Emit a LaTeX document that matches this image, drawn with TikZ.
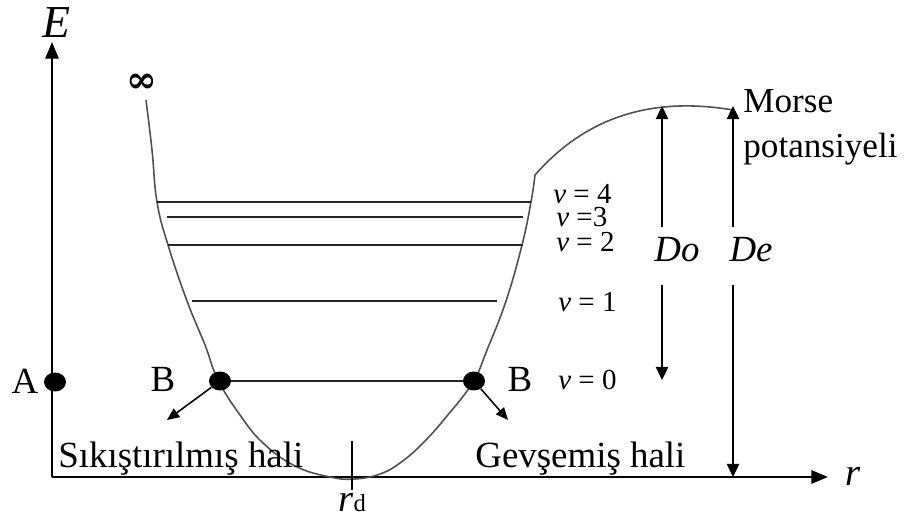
\documentclass[tikz,border=0pt]{standalone}
\usepackage{fontspec}
\setmainfont{Liberation Serif}
\newfontfamily\simgefont{DejaVu Serif}
\usetikzlibrary{arrows.meta, positioning, calc, shapes.geometric}
\definecolor{kuyugray}{HTML}{505050}

\begin{document}
\begin{tikzpicture}[x=0.02cm, y=-0.02cm,
    eksen/.style={line width=1.4pt, -{Triangle[length=9.5pt, width=7.5pt]}},
    okcizgi/.style={line width=1.1pt, -{Triangle[length=7.5pt, width=7pt]}},
    seviye/.style={line width=1.1pt, black!85},
    nokta/.style={ellipse, fill=black, inner sep=0pt, minimum width=0.44cm, minimum height=0.38cm},
    yazi/.style={font=\fontsize{21}{25}\selectfont, inner sep=0pt, anchor=base},
    vyazi/.style={font=\fontsize{16.5}{19}\selectfont, inner sep=0pt, anchor=base west}]
  \useasboundingbox (0,0) rectangle (908,519);

  % Eksenler
  \coordinate (O) at (52,477);
  \coordinate (Etop) at (52,42);
  \coordinate (rend) at (828,477);
  \draw[eksen] (O) -- (Etop);
  \draw[eksen] (O) -- (rend);
  \node[yazi, font=\fontsize{26}{30}\selectfont\itshape] (E) at (56,38) {E};
  \node[yazi, font=\fontsize{22}{26}\selectfont\itshape] (r) at (853,485) {r};

  % Potansiyel kuyusu (Morse)
  \draw[kuyugray, line width=0.9pt] plot[smooth, tension=0.7] coordinates {
      (146,100) (152,150) (157,202) (168,245) (187,301) (205,345) (218,380)
      (240,415) (263,443) (295,466) (330,477) (355,479) (380,474) (400,463)
      (422,444) (447,416) (473,382) (487,350) (506,301) (522,245) (531,202)
      (535,175)}
    .. controls (585,118) and (650,96) .. (733,110);
  \node[font=\fontsize{21}{23}\selectfont\simgefont\bfseries] (inf) at (142,83) {∞};

  % Titresim seviyeleri
  \foreach \y/\xa/\xb in {202/157/531, 217/167/523, 245/168/523, 301/192/497} {
    \draw[seviye] (\xa,\y) -- (\xb,\y);
  }
  \node[nokta] (Bl) at (220,381) {};
  \node[nokta] (Br) at (474,381) {};
  \draw[seviye] (Bl) -- (Br);
  \node[nokta] (Adot) at (55,382) {};

  \node[vyazi] (v4) at (553,204) {\textit{v} = 4};
  \node[vyazi] (v3) at (556,227) {\textit{v} =3};
  \node[vyazi] (v2) at (556,252) {\textit{v} = 2};
  \node[vyazi] (v1) at (558,312) {\textit{v} = 1};
  \node[vyazi] (v0) at (558,390) {\textit{v} = 0};

  \node[yazi] (A) at (25,394) {A};
  \node[yazi] (Bltext) at (163,392) {B};
  \node[yazi] (Brtext) at (520,392) {B};

  % Sikistirma / gevseme oklari
  \coordinate (Bltip) at (167,420);
  \coordinate (Brtip) at (508,420);
  \draw[line width=0.9pt, -{Triangle[length=7pt, width=6pt]}] (Bl) -- (Bltip);
  \draw[line width=0.9pt, -{Triangle[length=7pt, width=6pt]}] (Br) -- (Brtip);
  \node[yazi, anchor=base west] (sik) at (58,467) {Sıkıştırılmış hali};
  \node[yazi, anchor=base west] (gev) at (475,467) {Gevşemiş hali};

  % Denge uzakligi
  \coordinate (rdtop) at (352,441);
  \coordinate (rdbot) at (352,490);
  \draw[line width=0.9pt] (rdtop) -- (rdbot);
  \node[yazi, anchor=base west, font=\fontsize{22}{24}\selectfont] (rd) at (338,511)
    {\textit{r}{\fontsize{14}{16}\selectfont d}};

  % Ayrisma enerjileri
  \node[yazi, font=\fontsize{21}{25}\selectfont\itshape] (Do) at (677,262) {Do};
  \node[yazi, font=\fontsize{21}{25}\selectfont\itshape] (De) at (751,262) {De};
  \coordinate (Doust) at (662,227);
  \coordinate (Doalt) at (662,285);
  \coordinate (Dotop) at (662,106);
  \coordinate (Dobot) at (662,380);
  \coordinate (Deust) at (733,227);
  \coordinate (Dealt) at (733,285);
  \coordinate (Detop) at (733,106);
  \coordinate (Debot) at (733,477);
  \draw[okcizgi] (Doust) -- (Dotop);
  \draw[okcizgi] (Doalt) -- (Dobot);
  \draw[okcizgi] (Deust) -- (Detop);
  \draw[okcizgi] (Dealt) -- (Debot);

  \node[yazi, anchor=base west, font=\fontsize{20}{24}\selectfont] (morse1) at (743,113) {Morse};
  \node[yazi, anchor=base west, font=\fontsize{20}{24}\selectfont] (morse2) at (743,158) {potansiyeli};
\end{tikzpicture}
\end{document}
